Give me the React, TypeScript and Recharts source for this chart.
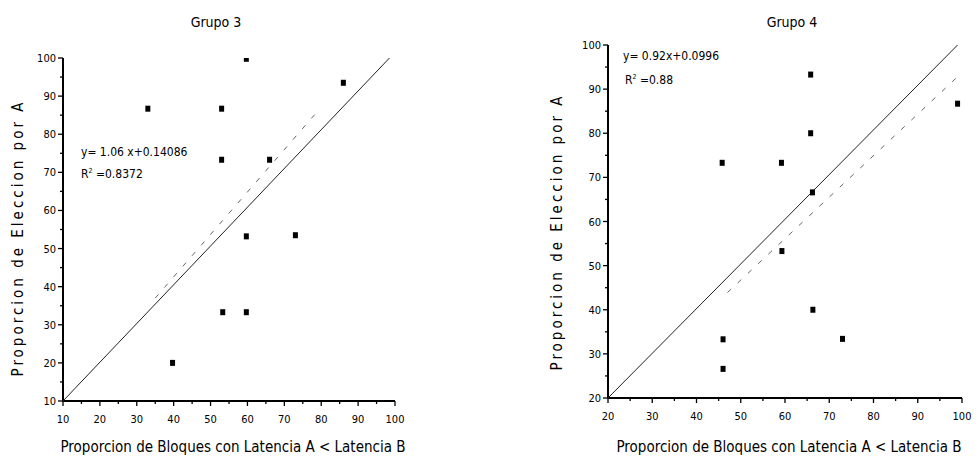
import { ScatterChart, Scatter, XAxis, YAxis } from 'recharts';

// Grupo 3 observations
const g3X = [33, 53, 59.7, 86, 53, 66, 59.7, 73, 53.3, 59.7, 39.7];
const g3Y = [86.7, 86.7, 99.8, 93.5, 73.3, 73.3, 53.2, 53.5, 33.3, 33.3, 20];
// Grupo 4 observations
const g4X = [45.8, 59.2, 65.8, 65.8, 66.2, 99, 59.3, 66.3, 46, 46, 73];
const g4Y = [73.3, 73.3, 93.3, 80, 66.6, 86.7, 53.3, 40, 33.3, 26.6, 33.4];

// lines: solid diagonal + dashed fit
const g3DiagX = [10, 98.5];
const g3DiagY = [10, 100];
const g3FitX = [35, 79];
const g3FitY = [37, 86];
const g4DiagX = [20, 99];
const g4DiagY = [20, 100];
const g4FitX = [47, 99];
const g4FitY = [43.9, 92.8];

const g3Ticks = [10, 15, 20, 25, 30, 35, 40, 45, 50, 55, 60, 65, 70, 75, 80, 85, 90, 95, 100];
const g4Ticks = [20, 25, 30, 35, 40, 45, 50, 55, 60, 65, 70, 75, 80, 85, 90, 95, 100];

const g3Title = 'Grupo 3';
const g4Title = 'Grupo 4';
const xTitle = 'Proporcion de Bloques con Latencia A < Latencia B';
const yTitle = 'Proporcion de Eleccion por A';

const zip = (xs: number[], ys: number[]) => xs.map((x, i) => ({ x, y: ys[i] }));

const FONT = '"Liberation Sans Narrow", "Arial Narrow", "DejaVu Sans Condensed", "Liberation Sans", sans-serif';

const Square = (p: any) => <rect x={p.cx - 2.5} y={p.cy - 3} width={5} height={6} fill="#000" />;
const Nothing = () => <g />;

const XTick = (p: any) => {
  const major = p.payload.value % 10 === 0;
  return (
    <g>
      <line x1={p.x} x2={p.x} y1={p.y} y2={p.y + (major ? 5 : 3)} stroke="#000" strokeWidth={1.3} />
      {major && (
        <text x={p.x} y={p.y + 22} textAnchor="middle" fontSize={11} fontFamily={FONT} fill="#000">
          {p.payload.value}
        </text>
      )}
    </g>
  );
};

const YTick = (p: any) => {
  const major = p.payload.value % 10 === 0;
  return (
    <g>
      <line x1={p.x} x2={p.x - (major ? 5 : 3)} y1={p.y} y2={p.y} stroke="#000" strokeWidth={1.3} />
      {major && (
        <text x={p.x - 7} y={p.y + 4} textAnchor="end" fontSize={11} fontFamily={FONT} fill="#000">
          {p.payload.value}
        </text>
      )}
    </g>
  );
};

function Panel(props: {
  left: number; width: number; margin: any; domain: [number, number]; ticks: number[];
  pts: { x: number; y: number }[]; diag: { x: number; y: number }[]; fit: { x: number; y: number }[];
}) {
  return (
    <div style={{ position: 'absolute', left: props.left, top: 0 }}>
      <ScatterChart width={props.width} height={460} margin={props.margin}>
        <XAxis
          type="number" dataKey="x" domain={props.domain} ticks={props.ticks} interval={0}
          height={30} tickLine={false} tickSize={0} tickMargin={0}
          axisLine={{ stroke: '#000', strokeWidth: 2 }} tick={<XTick />}
          allowDataOverflow
        />
        <YAxis
          type="number" dataKey="y" domain={props.domain} ticks={props.ticks} interval={0}
          width={30} tickLine={false} tickSize={0} tickMargin={0}
          axisLine={{ stroke: '#000', strokeWidth: 2 }} tick={<YTick />}
          allowDataOverflow
        />
        <Scatter data={props.diag} line={{ stroke: '#222', strokeWidth: 1 }} shape={Nothing} isAnimationActive={false} />
        <Scatter data={props.fit} line={{ stroke: '#666', strokeWidth: 1, strokeDasharray: '5 9' }} shape={Nothing} isAnimationActive={false} />
        <Scatter data={props.pts} shape={Square} fill="#000" isAnimationActive={false} />
      </ScatterChart>
    </div>
  );
}

const txt: React.CSSProperties = { position: 'absolute', fontFamily: FONT, color: '#000', whiteSpace: 'nowrap' };

export default function App() {
  return (
    <div style={{ position: 'absolute', left: 0, top: 0, width: 977, height: 460, background: '#fff', overflow: 'hidden' }}>
      <Panel left={0} width={420} margin={{ top: 58, right: 25, bottom: 29, left: 33 }} domain={[10, 100]} ticks={g3Ticks}
        pts={zip(g3X, g3Y)} diag={zip(g3DiagX, g3DiagY)} fit={zip(g3FitX, g3FitY)} />
      <Panel left={500} width={477} margin={{ top: 45, right: 15, bottom: 32, left: 78 }} domain={[20, 100]} ticks={g4Ticks}
        pts={zip(g4X, g4Y)} diag={zip(g4DiagX, g4DiagY)} fit={zip(g4FitX, g4FitY)} />

      <div style={{ ...txt, left: 216, top: 14, fontSize: 14, transform: 'translateX(-50%)' }}>{g3Title}</div>
      <div style={{ ...txt, left: 792, top: 14, fontSize: 14, transform: 'translateX(-50%)' }}>{g4Title}</div>

      <div style={{ ...txt, left: 233, top: 438, fontSize: 15, transform: 'translateX(-50%)' }}>{xTitle}</div>
      <div style={{ ...txt, left: 789, top: 438, fontSize: 15, transform: 'translateX(-50%)' }}>{xTitle}</div>

      <div style={{ ...txt, left: 18, top: 238, fontSize: 15, letterSpacing: 3, transform: 'translate(-50%, -50%) rotate(-90deg)' }}>{yTitle}</div>
      <div style={{ ...txt, left: 557, top: 232, fontSize: 15, letterSpacing: 3, transform: 'translate(-50%, -50%) rotate(-90deg)' }}>{yTitle}</div>

      <div style={{ ...txt, left: 81, top: 145, fontSize: 12 }}>y= 1.06 x+0.14086</div>
      <div style={{ ...txt, left: 81, top: 167, fontSize: 12 }}>R<sup style={{ fontSize: 7 }}>2</sup> =0.8372</div>
      <div style={{ ...txt, left: 623, top: 49, fontSize: 12 }}>y= 0.92x+0.0996</div>
      <div style={{ ...txt, left: 625, top: 73, fontSize: 12 }}>R<sup style={{ fontSize: 7 }}>2</sup> =0.88</div>
    </div>
  );
}
